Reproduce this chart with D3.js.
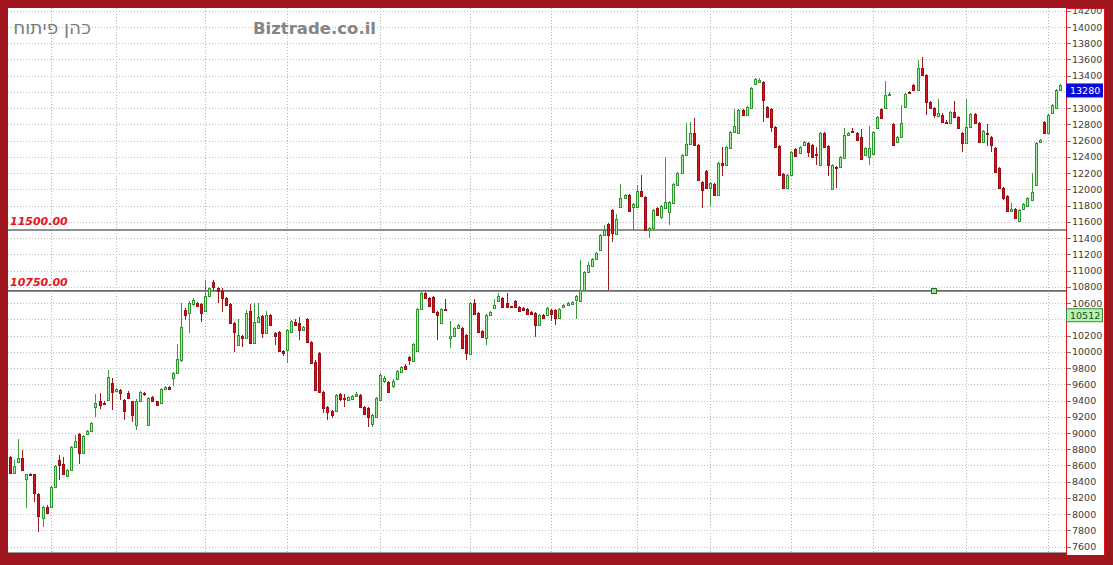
<!DOCTYPE html>
<html><head><meta charset="utf-8">
<script src="https://cdn.jsdelivr.net/npm/d3@7"></script>
<style>html,body{margin:0;padding:0;background:#a0161e;} svg{display:block}</style>
</head><body><svg id="c" width="1113" height="565"></svg>
<script>
const opens = [8700,8507,8640,8690,8433,8495,8495,8250,7955,8090,8090,8335,8670,8620,8470,8545,8828,8988,8754,8988,9025,9320,9394,9370,9406,9616,9518,9530,9406,9493,9394,9099,9394,9494,9099,9444,9394,9370,9542,9567,9678,9740,9900,10514,10478,10590,10600,10590,10503,10687,10860,10786,10749,10663,10589,10355,10084,10195,10170,10503,10109,10367,10441,10232,10453,10232,10244,10010,10023,10244,10367,10355,10269,10404,10121,9874,9990,9505,9320,9271,9271,9480,9430,9406,9420,9455,9468,9320,9308,9110,9197,9406,9640,9628,9580,9666,9752,9825,9937,9887,10010,10527,10724,10663,10675,10490,10355,10530,10170,10195,10293,10293,10207,9973,10601,10478,10256,10170,10453,10540,10626,10663,10603,10560,10626,10552,10540,10527,10490,10478,10330,10453,10453,10515,10515,10416,10552,10577,10589,10638,10626,10762,10983,11057,11143,11254,11438,11574,11746,11450,11783,11894,11931,11783,11783,11980,11906,11500,11525,11770,11660,11770,11720,11832,12054,12202,12424,12559,12695,12547,12091,12226,12017,12066,11931,12325,12300,12510,12707,12695,12978,12916,13003,13300,13323,13323,13015,12990,12768,12534,12190,12017,12177,12500,12450,12547,12572,12547,12436,12300,12695,12534,12005,12276,12276,12387,12670,12720,12695,12645,12424,12400,12436,12756,12990,13000,13160,12805,12584,12645,13015,13200,13290,13225,13495,13409,13076,13003,12904,12920,12835,12818,12953,12892,12695,12572,12770,12930,12818,12584,12695,12645,12510,12263,12017,11919,11734,11758,11611,11758,11795,11870,12054,12584,12830,12695,12940,13000,13225];
const highs = [8720,8670,8926,8790,8500,8505,8500,8260,8100,8110,8345,8600,8730,8700,8560,8840,8975,9000,8980,9040,9135,9480,9490,9400,9776,9680,9560,9545,9420,9520,9400,9420,9520,9510,9440,9460,9400,9555,9580,9580,9750,10100,10600,10540,10620,10660,10615,10600,10884,10800,10880,10800,10790,10680,10600,10370,10404,10210,10515,10589,10600,10600,10450,10503,10465,10245,10256,10020,10280,10395,10404,10430,10320,10415,10130,9900,10000,9515,9330,9280,9480,9490,9480,9455,9470,9510,9480,9330,9320,9235,9440,9740,9700,9640,9660,9780,9830,9850,9950,10110,10540,10737,10740,10675,10690,10500,10540,10650,10380,10305,10345,10305,10220,10610,10650,10490,10265,10465,10500,10650,10724,10675,10724,10570,10640,10565,10555,10540,10500,10490,10465,10465,10552,10527,10527,10540,10590,10610,10630,10700,11130,11000,11100,11160,11230,11450,11560,11590,11760,11700,12066,11945,11945,11830,12054,12177,11920,11540,11760,11783,11810,12400,11860,12080,12215,12440,12818,12830,12880,12560,12100,12240,12095,12080,12340,12520,12535,12720,12990,12990,12990,13030,13265,13375,13370,13340,13030,13000,12780,12545,12200,12190,12475,12515,12535,12595,12585,12560,12520,12710,12710,12545,12315,12290,12415,12760,12710,12760,12710,12740,12525,12780,12720,12905,13000,13335,13200,12820,12660,13040,13190,13215,13300,13594,13630,13420,13090,13015,13115,12935,12850,12965,13090,12905,12710,13115,12945,12945,12830,12735,12800,12660,12525,12275,12030,11930,11830,11770,11760,11835,11905,12200,12585,12620,12845,12930,13055,13240,13300];
const lows = [8490,8500,8630,8540,8076,8480,8150,7780,7845,8000,8080,8330,8420,8480,8460,8530,8820,8618,8740,8975,9010,9200,9300,9340,9400,9280,9500,9406,9160,9420,9136,9037,9380,9460,9090,9380,9330,9360,9530,9530,9580,9730,9880,10392,10232,10570,10550,10367,10490,10680,10760,10600,10490,10560,10340,9998,10070,10060,10160,10100,10100,10355,10170,10220,10320,10084,10000,9948,9862,10235,10320,10145,10255,10110,9850,9520,9490,9246,9160,9190,9260,9400,9320,9400,9410,9445,9310,9220,9074,9074,9180,9400,9620,9490,9560,9650,9740,9770,9840,9875,10000,10510,10650,10550,10480,10145,10340,10500,10047,10185,10280,10035,9900,9960,10455,10235,10170,10084,10445,10530,10615,10540,10540,10540,10540,10490,10500,10455,10455,10182,10320,10405,10440,10380,10330,10405,10540,10570,10580,10404,10615,10750,10970,11045,11130,11240,11425,10761,11350,11440,11770,11880,11720,11500,11770,11905,11490,11400,11510,11670,11640,11760,11560,11820,12040,12190,12410,12545,12535,12100,11771,12005,11783,11920,11920,12160,12290,12500,12700,12680,12900,12900,12990,13285,13310,12830,12880,12706,12510,12165,12005,12005,12165,12400,12440,12535,12400,12390,12300,12290,12510,12160,11995,12017,12265,12375,12660,12690,12600,12365,12410,12300,12425,12745,12870,12990,13150,12535,12575,12635,13005,13180,13210,13215,13395,12916,12990,12880,12890,12818,12818,12805,12880,12745,12460,12560,12760,12805,12570,12570,12535,12460,12200,12005,11870,11720,11720,11635,11611,11745,11785,11860,12040,12575,12680,12685,12930,12990,13210];
const closes = [8507,8594,8690,8545,8495,8490,8261,7978,8090,8015,8335,8594,8606,8495,8545,8828,8902,8754,8963,9025,9123,9370,9345,9365,9690,9505,9542,9490,9270,9431,9220,9394,9505,9480,9430,9394,9345,9542,9567,9542,9740,9912,10306,10453,10600,10640,10564,10478,10687,10786,10798,10749,10663,10577,10355,10244,10207,10170,10478,10109,10367,10428,10232,10453,10330,10195,10010,9985,10269,10380,10330,10269,10306,10121,9862,9530,9505,9308,9259,9222,9468,9419,9420,9444,9455,9480,9320,9234,9197,9222,9431,9715,9680,9505,9640,9764,9813,9790,9900,10096,10527,10724,10663,10564,10490,10453,10527,10515,10195,10293,10330,10047,9985,10601,10466,10244,10180,10453,10490,10577,10687,10552,10552,10550,10552,10503,10515,10466,10466,10330,10453,10416,10540,10466,10416,10527,10577,10601,10614,10687,10762,10983,11070,11143,11217,11438,11500,11438,11463,11635,11894,11931,11734,11820,11980,11919,11500,11525,11746,11685,11795,11845,11845,12066,12202,12424,12559,12695,12547,12116,11993,12017,12079,11931,12325,12300,12522,12707,12780,12978,12916,13015,13250,13360,13350,13100,12892,12768,12522,12177,12017,12177,12461,12412,12522,12580,12461,12400,12430,12695,12522,12300,12300,12265,12400,12670,12695,12707,12610,12375,12510,12510,12707,12892,12880,13160,13180,12547,12645,12818,13175,13190,13225,13495,13409,13076,13003,12916,12941,12830,12830,12953,12892,12756,12572,12770,12930,12818,12584,12720,12690,12547,12214,12017,11894,11734,11760,11648,11746,11820,11894,11968,12572,12610,12695,12917,13040,13225,13280];
const yTicks = d3.range(7600, 14201, 200);
const levels = [11500, 10750];
const levelLabels = ["11500.00", "10750.00"];
const monthStartIdx = [10,26,48,68,91,113,133,154,172,192,212,235,255];
const lastPrice = 13280;
const sidePrice = 10512;
const markerIdx = 227;
const titleText = "כהן פיתוח";
const brandText = "Biztrade.co.il";

const W = 1113, H = 565;
const plot = {l: 8, r: 1066, t: 8, b: 553};
const svg = d3.select('#c');
const N = opens.length;
const x = d3.scaleLinear().domain([0, N - 1]).range([10, 1060]);
const y = d3.scaleLinear().domain([7600, 14000]).range([546.7, 27]);
const data = opens.map((o, i) => ({i, o, h: highs[i], l: lows[i], c: closes[i]}));

// plot background
svg.append('rect').attr('x', plot.l).attr('y', plot.t).attr('width', plot.r - plot.l).attr('height', plot.b - plot.t).attr('fill', '#fff');

const grid = svg.append('g').attr('stroke', '#c0c0c0').attr('stroke-dasharray', '1,2').attr('shape-rendering', 'crispEdges');
grid.selectAll('line.h').data(yTicks).join('line').attr('class', 'h')
  .attr('x1', plot.l).attr('x2', plot.r).attr('y1', d => Math.round(y(d)) + 0.5).attr('y2', d => Math.round(y(d)) + 0.5);
grid.selectAll('line.v').data(monthStartIdx).join('line').attr('class', 'v')
  .attr('stroke', '#b4b4b4')
  .attr('x1', d => Math.round(x(d)) + 0.5).attr('x2', d => Math.round(x(d)) + 0.5).attr('y1', plot.t).attr('y2', plot.b);

// titles
svg.append('text').attr('x', 91).attr('y', 34).attr('text-anchor', 'end').attr('font-family', 'DejaVu Sans, sans-serif').attr('font-size', 18.5).attr('fill', '#7c7c7c').text(titleText);
svg.append('text').attr('x', 253).attr('y', 33.5).attr('font-family', 'DejaVu Sans, sans-serif').attr('font-weight', 'bold').attr('font-size', 16.5).attr('fill', '#858585').text(brandText);

// level lines
svg.selectAll('line.lv').data(levels).join('line').attr('class', 'lv')
  .attr('x1', plot.l).attr('x2', plot.r).attr('y1', d => y(d)).attr('y2', d => y(d)).attr('stroke', '#6a6a6a').attr('stroke-width', 1.6);
svg.selectAll('text.lv').data(levels).join('text').attr('class', 'lv')
  .attr('x', 10).attr('y', d => y(d) - 5).attr('font-family', 'DejaVu Sans, sans-serif').attr('font-size', 11).attr('font-weight', 'bold').attr('font-style', 'italic').attr('fill', '#e8101c')
  .text((d, i) => levelLabels[i]);

// candles
const up = d => d.c >= d.o;
const cg = svg.append('g').attr('shape-rendering', 'crispEdges');
cg.selectAll('line.w').data(data).join('line').attr('class', 'w')
  .attr('x1', d => Math.round(x(d.i)) + 0.5).attr('x2', d => Math.round(x(d.i)) + 0.5)
  .attr('y1', d => y(d.h)).attr('y2', d => y(d.l))
  .attr('stroke', d => up(d) ? '#3a9a3a' : '#9a1a1a');
cg.selectAll('rect.b').data(data).join('rect').attr('class', 'b')
  .attr('x', d => Math.round(x(d.i)) - 1 + 0.5).attr('width', 2)
  .attr('y', d => Math.round(y(Math.max(d.o, d.c))) + 0.5)
  .attr('height', d => Math.max(1, Math.round(y(Math.min(d.o, d.c))) - Math.round(y(Math.max(d.o, d.c)))))
  .attr('fill', d => up(d) ? '#a6eda6' : '#d0141e')
  .attr('stroke', d => up(d) ? '#2f952f' : '#a00c14');

// marker
svg.append('rect').attr('x', Math.round(x(markerIdx)) - 2.5).attr('y', Math.round(y(10750)) - 2.5).attr('width', 5).attr('height', 5)
  .attr('fill', '#8ee68e').attr('stroke', '#2a6a2a');

// right axis panel
svg.append('rect').attr('x', 1066.5).attr('y', 8.5).attr('width', 38).attr('height', 547).attr('fill', '#fff').attr('stroke', '#e8101c');
const boxes = [lastPrice, sidePrice];
const hidden = v => boxes.some(b => Math.abs(y(v) - (y(b) + 5)) < 11);
const shownTicks = yTicks.filter(v => !hidden(v));
const ax = svg.append('g').attr('font-family', 'DejaVu Sans, sans-serif').attr('font-size', 9.5).attr('fill', '#3c3c3c');
ax.selectAll('line').data(yTicks).join('line').attr('x1', 1067).attr('x2', 1071).attr('y1', d => Math.round(y(d)) + 0.5).attr('y2', d => Math.round(y(d)) + 0.5).attr('stroke', '#777');
ax.selectAll('text').data(shownTicks).join('text').attr('x', 1072).attr('y', d => y(d) + 3.5).text(d => d);

// price boxes
function box(v, fill, stroke, tcol) {
  const yy = y(v) - 1.5;
  svg.append('rect').attr('x', 1066.5).attr('y', yy).attr('width', 36).attr('height', 13).attr('fill', fill).attr('stroke', stroke);
  svg.append('text').attr('x', 1070).attr('y', yy + 10).attr('font-family', 'DejaVu Sans, sans-serif').attr('font-size', 9.5).attr('fill', tcol).text(v);
}
box(lastPrice, '#0a0ad8', '#0a0ad8', '#fff');
box(sidePrice, '#b6f2b6', '#3a8a3a', '#145014');

// outer frame
svg.append('path').attr('fill', '#a0161e').attr('fill-rule', 'evenodd')
  .attr('d', `M0,0H${W}V${H}H0Z M${plot.l},${plot.t}H1105V${plot.b + 2}H${plot.l}Z`);
svg.append('line').attr('x1', plot.l).attr('x2', 1066).attr('y1', plot.b - 0.5).attr('y2', plot.b - 0.5).attr('stroke', '#999');
</script></body></html>
